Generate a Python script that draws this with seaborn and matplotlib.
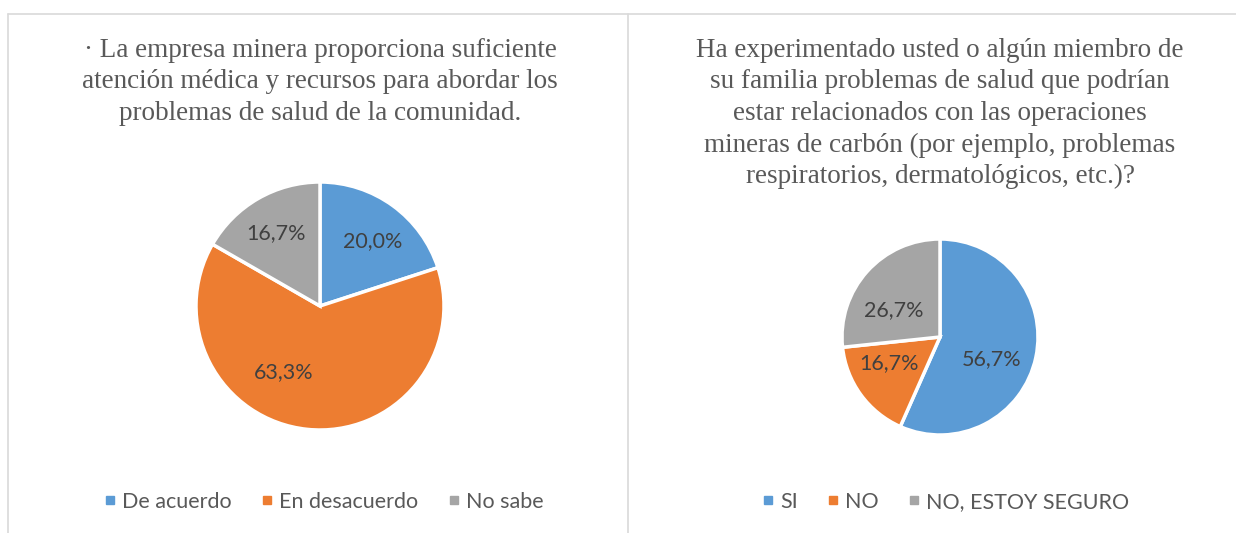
import numpy as np
import matplotlib.pyplot as plt
import seaborn as sns
from matplotlib.lines import Line2D

W, H = 1236, 533

# left chart
left_title = ("· La empresa minera proporciona suficiente\n"
              "atención médica y recursos para abordar los\n"
              "problemas de salud de la comunidad.")
left_labels = ["De acuerdo", "En desacuerdo", "No sabe"]
left_values = [20.0, 63.3, 16.7]

# right chart
right_title = ("Ha experimentado usted o algún miembro de\n"
               "su familia problemas de salud que podrían\n"
               "estar relacionados con las operaciones\n"
               "mineras de carbón (por ejemplo, problemas\n"
               "respiratorios, dermatológicos, etc.)?")
right_labels = ["SI", "NO", "NO, ESTOY SEGURO"]
right_values = [56.7, 16.7, 26.7]

sns.set_theme(style="white")
plt.rcParams['font.family'] = ['Lato', 'DejaVu Sans']
palette = sns.color_palette(["#5B9BD5", "#ED7D31", "#A5A5A5"])

fig = plt.figure(figsize=(W / 100, H / 100), dpi=100)

# panel borders (pixels -> figure fraction)
def px_line(x0, y0, x1, y1):
    fig.add_artist(Line2D([x0 / W, x1 / W], [1 - y0 / H, 1 - y1 / H],
                          color="#d9d9d9", linewidth=1.2))

px_line(8, 14, W, 14)
px_line(8, 14, 8, H)
px_line(628, 14, 628, H)


def draw_panel(cx, cy, r, values, labels, title, label_pos, legend_x):
    ax = fig.add_axes([(cx - r) / W, 1 - (cy + r) / H, 2 * r / W, 2 * r / H])
    wedges, _ = ax.pie(values, colors=palette, startangle=90, counterclock=False,
                       radius=1, wedgeprops=dict(edgecolor="white", linewidth=2.5))
    for w in wedges:
        w.set_clip_on(False)
    ax.set_xlim(-1, 1)
    ax.set_ylim(-1, 1)
    ax.axis("off")
    # data labels (radius fraction, angle)
    for v, (rf, ang) in zip(values, label_pos):
        a = np.deg2rad(ang)
        ax.text(rf * np.cos(a), rf * np.sin(a), f"{v:.1f}%".replace(".", ","),
                ha="center", va="center", fontsize=15.5, color="#404040")
    fig.text(cx / W, 1 - 38 / H, title, ha="center", va="top",
             family="Liberation Serif", fontsize=19.5, color="#595959",
             linespacing=1.34)
    handles = [Line2D([], [], marker="s", linestyle="", markersize=6, color=c)
               for c in palette]
    fig.legend(handles, labels, loc="center", bbox_to_anchor=(legend_x / W, 1 - 502 / H),
               ncol=3, frameon=False, fontsize=15.5, handletextpad=0.2,
               columnspacing=1.3, labelcolor="#595959", handlelength=0.7)


draw_panel(320, 306, 124, left_values, left_labels, left_title,
           [(0.67, 51), (0.61, -119), (0.69, 121)], 323)
draw_panel(940, 337, 98, right_values, right_labels, right_title,
           [(0.57, -23), (0.58, 207), (0.55, 150)], 945)

fig.savefig("out.png", dpi=100)
